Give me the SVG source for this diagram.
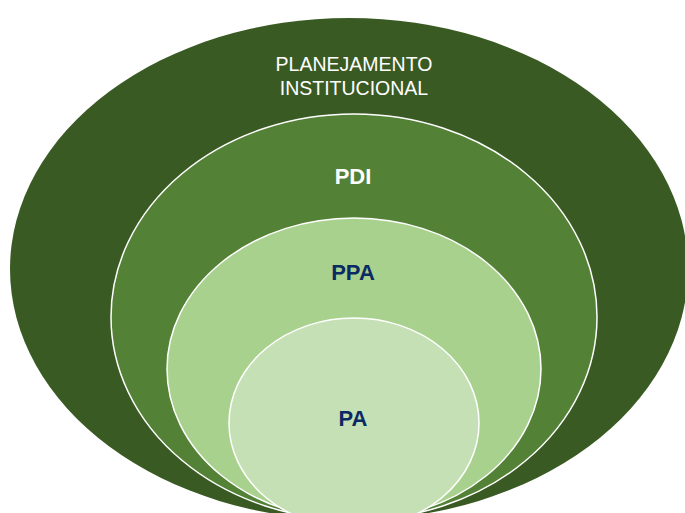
<svg xmlns="http://www.w3.org/2000/svg" width="685" height="513" viewBox="0 0 685 513">
<style>
.ring{stroke:#ffffff;stroke-width:1.5}
.lbl{font-family:"Liberation Sans",Arial,sans-serif;text-anchor:middle}
.w{fill:#ffffff}
.b{fill:#0b2a63;font-weight:bold}
</style>
<rect width="685" height="513" fill="#ffffff"/>
<g id="planejamento">
<ellipse cx="349" cy="269" rx="339" ry="251" fill="#3a5a24"/>
<text class="lbl w" x="354" y="71" font-size="19.5">PLANEJAMENTO</text>
<text class="lbl w" x="354" y="95" font-size="19.5">INSTITUCIONAL</text>
</g>
<g id="pdi">
<ellipse class="ring" cx="354" cy="317" rx="243" ry="203" fill="#538135"/>
<text class="lbl w" x="353" y="184" font-size="22" font-weight="bold">PDI</text>
</g>
<g id="ppa">
<ellipse class="ring" cx="354" cy="369" rx="187" ry="151" fill="#a9d18e"/>
<text class="lbl b" x="353" y="280" font-size="22">PPA</text>
</g>
<g id="pa">
<ellipse class="ring" cx="354" cy="423" rx="125" ry="105" fill="#c5e0b4"/>
<text class="lbl b" x="353" y="426" font-size="22">PA</text>
</g>
<g id="connectors"/>
</svg>
